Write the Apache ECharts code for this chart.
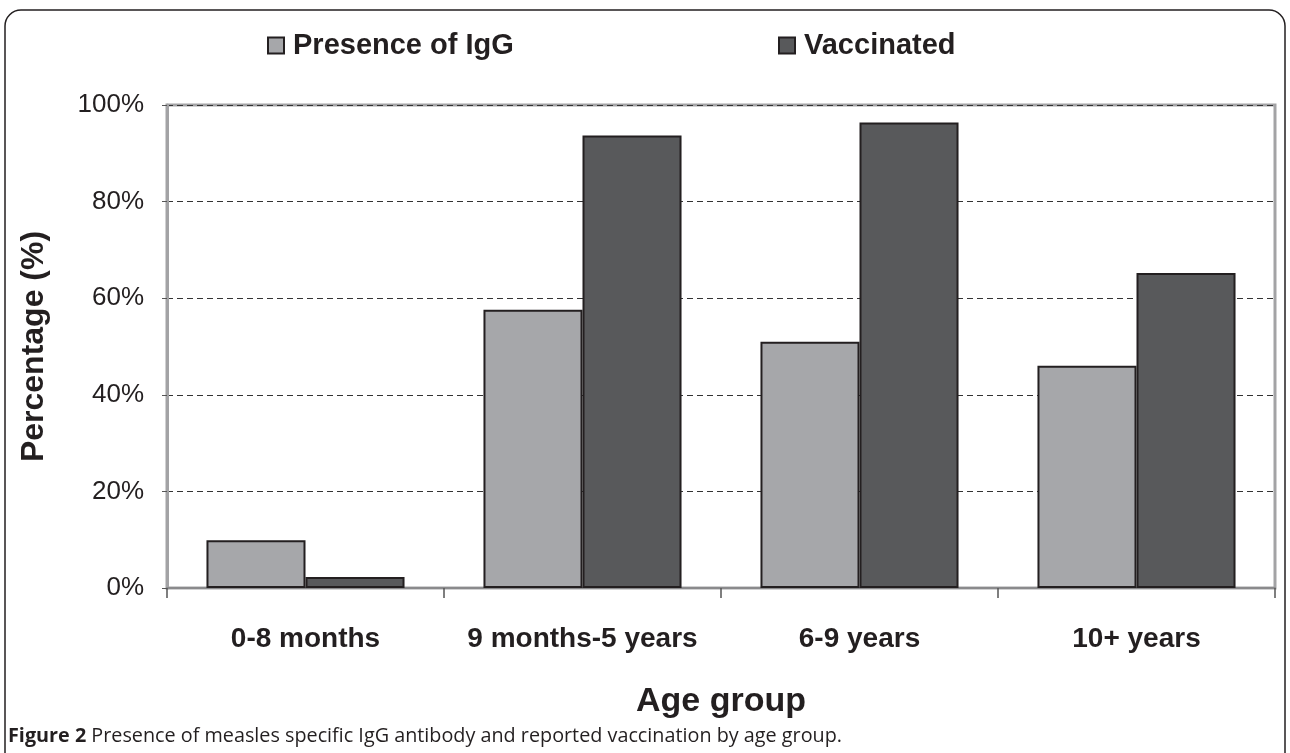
<!DOCTYPE html>
<html>
<head>
<meta charset="utf-8">
<script src="https://cdn.jsdelivr.net/npm/echarts@6/dist/echarts.min.js"></script>
<style>html,body{margin:0;padding:0;background:#fff}#c{width:1290px;height:753px}</style>
</head>
<body>
<div id="c"></div>
<script>
const categories = ['0-8 months', '9 months-5 years', '6-9 years', '10+ years'];
const igg = [9.9, 57.6, 51.0, 46.0];
const vaccinated = [2.3, 93.7, 96.4, 65.2];
const seriesNames = ['Presence of IgG', 'Vaccinated'];
const yTicks = [0, 20, 40, 60, 80, 100];

const chart = echarts.init(document.getElementById('c'));
const F = 'Arial, "Liberation Sans", sans-serif';
const legendText = { fontFamily: F, fontSize: 29, fontWeight: 'bold', color: '#231f20', padding: [0, 0, 0, 4] };
chart.setOption({
  animation: false,
  backgroundColor: '#fff',
  legend: [
    { data: [seriesNames[0]], icon: 'rect', left: 262, top: 26, itemWidth: 16, itemHeight: 16,
      textStyle: legendText },
    { data: [seriesNames[1]], icon: 'rect', left: 773, top: 26, itemWidth: 16, itemHeight: 16,
      textStyle: legendText }
  ],
  grid: {
    left: 167, right: 15, top: 105, bottom: 165,
    outerBoundsMode: 'none',
    show: true, borderColor: '#a3a3a5', borderWidth: 3
  },
  xAxis: {
    type: 'category', data: categories,
    axisLine: { lineStyle: { color: '#8a8a8c', width: 2 } },
    axisTick: { show: true, length: 10, lineStyle: { color: '#555', width: 1.5 } },
    axisLabel: { interval: 0, margin: 37, fontFamily: F, fontSize: 28, fontWeight: 'bold', color: '#231f20' },
    name: 'Age group', nameLocation: 'middle', nameGap: 97,
    nameTextStyle: { fontFamily: F, fontSize: 34, fontWeight: 'bold', color: '#231f20' }
  },
  yAxis: {
    type: 'value', min: 0, max: 100, interval: 20,
    axisLine: { show: true, lineStyle: { color: '#a3a3a5', width: 3 } },
    axisTick: { show: true, length: 5, lineStyle: { color: '#555' } },
    axisLabel: {
      margin: 23, fontFamily: F, fontSize: 26, color: '#231f20',
      formatter: v => yTicks.includes(v) ? v + '%' : ''
    },
    splitLine: { show: true, lineStyle: { color: '#333', width: 1, type: [6, 4] } },
    name: 'Percentage (%)', nameLocation: 'middle', nameGap: 117, nameRotate: 90,
    nameTextStyle: { fontFamily: F, fontSize: 32, fontWeight: 'bold', color: '#231f20' }
  },
  series: [
    { name: seriesNames[0], type: 'bar', data: igg, barGap: '0%', barCategoryGap: '28.5%',
      itemStyle: { color: '#a6a7aa', borderColor: '#231f20', borderWidth: 2 } },
    { name: seriesNames[1], type: 'bar', data: vaccinated, barGap: '0%', barCategoryGap: '28.5%',
      itemStyle: { color: '#58595b', borderColor: '#231f20', borderWidth: 2 } }
  ],
  graphic: [
    { type: 'rect', z: -1, shape: { x: 5, y: 10, width: 1280, height: 780, r: [16, 16, 0, 0] },
      style: { fill: 'none', stroke: '#231f20', lineWidth: 1.5 } },
    { type: 'text', left: 8, top: 726,
      style: {
        text: '{b|Figure 2} Presence of measles specific IgG antibody and reported vaccination by age group.',
        rich: {
          b: { fontFamily: '"Open Sans", sans-serif', fontSize: 19.8, fontWeight: 'bold', fill: '#231f20' }
        },
        fontFamily: '"Open Sans", sans-serif', fontSize: 19.8, fill: '#231f20'
      } }
  ]
});
</script>
</body>
</html>
